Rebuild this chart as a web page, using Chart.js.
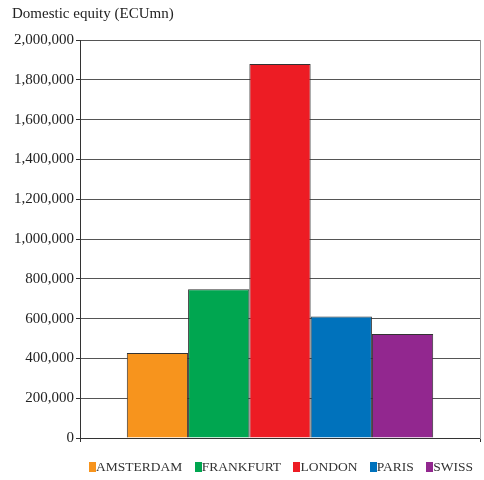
<!DOCTYPE html>
<html><head><meta charset="utf-8">
<script src="https://cdn.jsdelivr.net/npm/chart.js@4"></script>
<style>
html,body{margin:0;padding:0;background:#fff;}
#wrap{position:relative;width:484px;height:480px;}
#legend{position:absolute;left:89px;top:459px;width:384px;display:flex;justify-content:space-between;font:13.5px "Liberation Serif",serif;color:#333;line-height:16px;}
.item{display:flex;align-items:center;white-space:nowrap;}
.box{display:inline-block;width:7px;height:10px;margin-top:-1px;}
</style></head>
<body><div id="wrap"><canvas id="c" width="484" height="480"></canvas><div id="legend"></div></div>
<script>
const categories = ['Domestic equity'];
const seriesNames = ['AMSTERDAM', 'FRANKFURT', 'LONDON', 'PARIS', 'SWISS'];
const seriesValues = [427000, 748000, 1880000, 611000, 523000];
const seriesColors = ['#F7941D', '#00A650', '#ED1C24', '#0072BC', '#92278F'];
const yTicks = [0, 200000, 400000, 600000, 800000, 1000000, 1200000, 1400000, 1600000, 1800000, 2000000];
const titleText = 'Domestic equity (ECUmn)';

Chart.defaults.font.family = '"Liberation Serif", "Times New Roman", serif';

const datasets = seriesNames.map((n, i) => ({
  label: n,
  data: [seriesValues[i]],
  backgroundColor: seriesColors[i],
  borderColor: '#333',
  borderWidth: 1,
  categoryPercentage: 0.766,
  barPercentage: 1
}));

new Chart(document.getElementById('c'), {
  type: 'bar',
  data: { labels: categories, datasets },
  options: {
    responsive: false,
    animation: false,
    layout: { padding: { left: 12, right: 4, top: 0, bottom: 38 } },
    plugins: {
      legend: { display: false },
      tooltip: { enabled: false },
      title: {
        display: true, text: titleText, align: 'start', color: '#222',
        font: { size: 15, weight: 'normal' }, padding: { top: 5, bottom: 17 }
      }
    },
    scales: {
      x: {
        offset: true,
        ticks: { display: false },
        grid: { display: true, drawOnChartArea: false, drawTicks: true, tickLength: 4, color: '#333', offset: true },
        border: { display: true, color: '#333' }
      },
      y: {
        min: yTicks[0], max: yTicks[yTicks.length - 1],
        afterBuildTicks: s => { s.ticks = yTicks.map(v => ({ value: v })); },
        afterFit: s => { s.width = 68; },
        ticks: {
          color: '#222', font: { size: 15 }, padding: 2,
          callback: v => Number(v).toLocaleString('en-US')
        },
        grid: { color: '#555', tickLength: 4, tickColor: '#333' },
        border: { color: '#333' }
      },
      y2: {
        position: 'right', display: true,
        min: yTicks[0], max: yTicks[yTicks.length - 1],
        ticks: { display: false },
        grid: { drawOnChartArea: false, drawTicks: false },
        border: { color: '#999' },
        afterFit: s => { s.width = 0; }
      }
    }
  }
});

const lg = document.getElementById('legend');
seriesNames.forEach((n, i) => {
  const it = document.createElement('span');
  it.className = 'item';
  const b = document.createElement('span');
  b.className = 'box';
  b.style.background = seriesColors[i];
  it.appendChild(b);
  it.appendChild(document.createTextNode(n));
  lg.appendChild(it);
});
</script>
</body></html>
